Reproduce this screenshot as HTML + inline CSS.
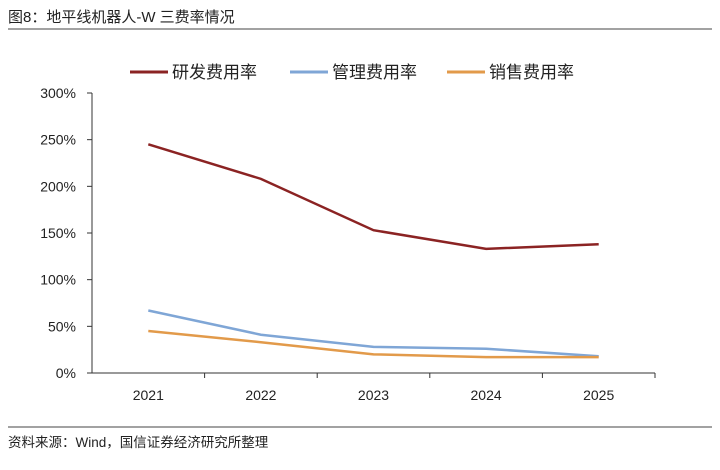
<!DOCTYPE html>
<html><head><meta charset="utf-8"><style>
body{margin:0;background:#fff;width:720px;height:465px;overflow:hidden;font-family:"Liberation Sans","Noto Sans CJK SC",sans-serif}
</style></head><body>
<svg width="720" height="465" xmlns="http://www.w3.org/2000/svg">
<text x="8" y="22" font-size="15" fill="#222">图8：地平线机器人-W 三费率情况</text>
<line x1="8" y1="29" x2="712" y2="29" stroke="#444" stroke-width="1"/>
<g id="legend"></g>
<g id="axes"></g>
<g id="series"></g>
<line x1="8" y1="427" x2="712" y2="427" stroke="#444" stroke-width="1"/>
<text x="8" y="447" font-size="13.5" fill="#222">资料来源：Wind，国信证券经济研究所整理</text>
</svg>
<script>
const categories=["2021","2022","2023","2024","2025"];
const rdRate=[245,208,153,133,138];
const mgmtRate=[67,41,28,26,18];
const salesRate=[45,33,20,17,17];
const yTicks=[0,50,100,150,200,250,300];
const seriesNames=["研发费用率","管理费用率","销售费用率"];
const NS="http://www.w3.org/2000/svg";
const x0=92,x1=655,y0=373,y1=93;
const bw=(x1-x0)/categories.length;
const xs=i=>x0+bw*(i+0.5);
const ys=v=>y0-(v/300)*(y0-y1);
function mk(t,a,p){const e=document.createElementNS(NS,t);for(const k in a)e.setAttribute(k,a[k]);p.appendChild(e);return e;}
const ax=document.getElementById('axes');
let l=mk('line',{x1:x0,y1:y1,x2:x0,y2:y0,stroke:'#333','stroke-width':1},ax);


l=mk('line',{x1:x0,y1:y0,x2:x1,y2:y0,stroke:'#333','stroke-width':1},ax);


yTicks.forEach(v=>{
 const t=mk('line',{x1:x0-5,y1:ys(v),x2:x0,y2:ys(v),stroke:'#333'},ax);
 
 
 const tx=mk('text',{x:x0-16,y:ys(v)+5,'font-size':14,'text-anchor':'end',fill:'#222'},ax);
 tx.textContent=v+'%';
 
 
});
categories.forEach((c,i)=>{
 const t=mk('line',{x1:x0+bw*(i+1),y1:y0,x2:x0+bw*(i+1),y2:y0+5,stroke:'#333'},ax);
 
 
 const tx=mk('text',{x:xs(i),y:y0+27,'font-size':14,'text-anchor':'middle',fill:'#222'},ax);
 tx.textContent=c;
 
 
});
const sg=document.getElementById('series');
const colors=["#8b2323","#7fa6d6","#e29a4a"];
[rdRate,mgmtRate,salesRate].forEach((arr,k)=>{
 const p=mk('polyline',{points:arr.map((v,i)=>xs(i)+','+ys(v)).join(' '),fill:'none',stroke:colors[k],'stroke-width':2.5},sg);
 
 
});
const lg=document.getElementById('legend');
const lx=[130,290,447];
seriesNames.forEach((n,k)=>{
 const ln=mk('line',{x1:lx[k],y1:72,x2:lx[k]+38,y2:72,stroke:colors[k],'stroke-width':3},lg);
 
 
 const t=mk('text',{x:lx[k]+42,y:78,'font-size':17,fill:'#222'},lg);
 t.textContent=n;
 
 
});
</script>
</body></html>
